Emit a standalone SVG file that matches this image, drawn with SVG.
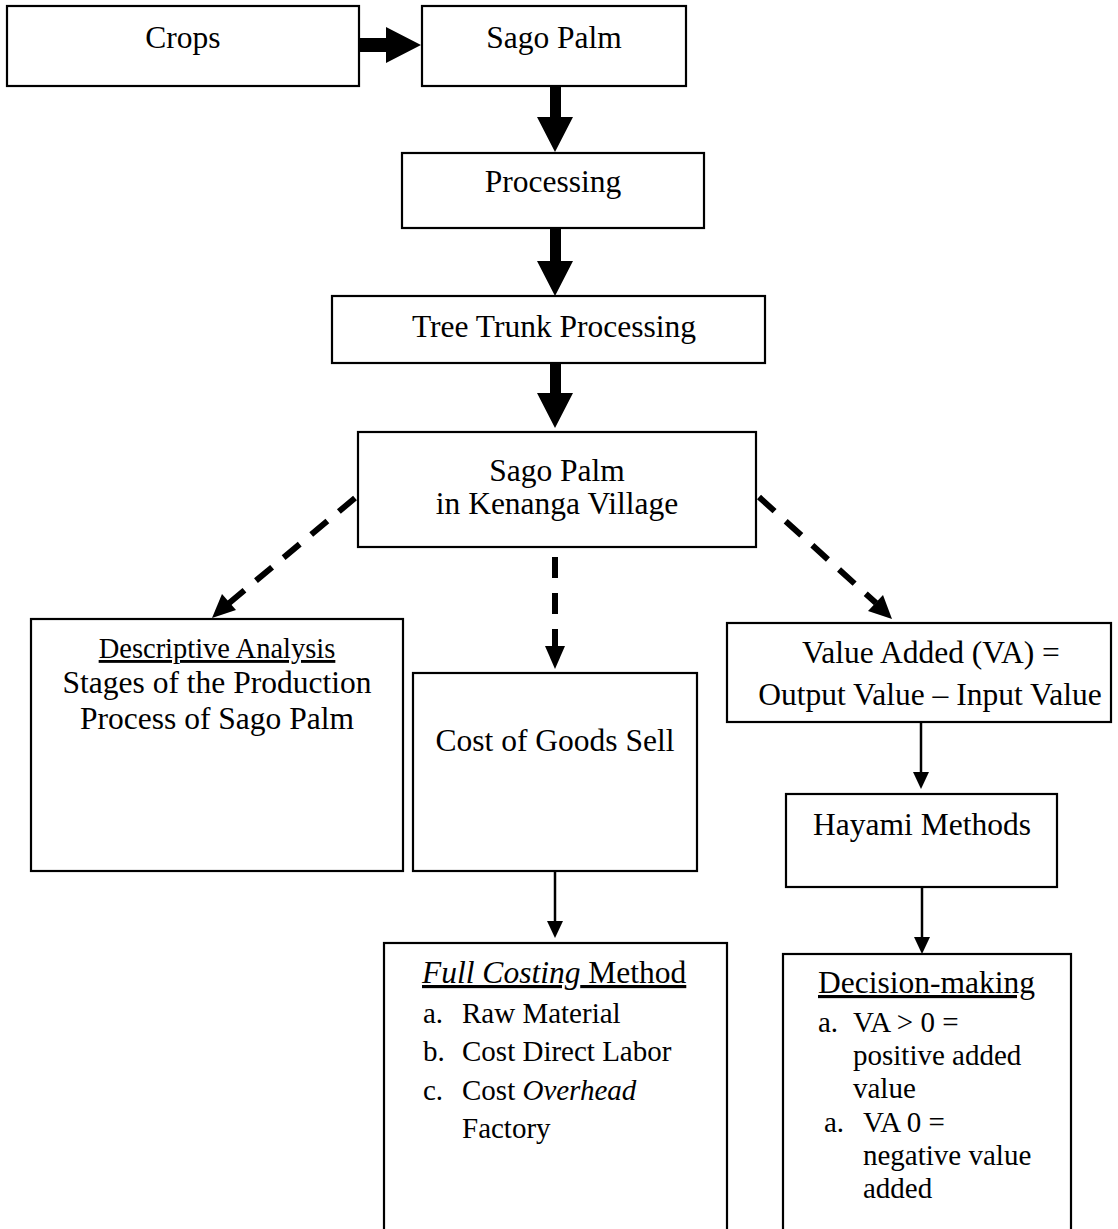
<svg xmlns="http://www.w3.org/2000/svg" width="1118" height="1229" viewBox="0 0 1118 1229">
<defs>
<style>
.box{fill:#fff;stroke:#000;stroke-width:2.2}
text{font-family:"Liberation Serif","Times New Roman",serif;fill:#000;font-size:31.5px}
.c{text-anchor:middle}
.li{font-size:29px}
.u{text-decoration:underline}
.thick{fill:#000}
.dash{stroke:#000;stroke-width:6;fill:none;stroke-dasharray:21 15}
.thin{stroke:#000;stroke-width:2.5;fill:none}
</style>
<marker id="ah" markerWidth="8" markerHeight="8" refX="7" refY="4" orient="auto" markerUnits="userSpaceOnUse" viewBox="0 0 8 8">
<path d="M0,0 L8,4 L0,8 Z" fill="#000"/>
</marker>
</defs>
<g id="connectors">
<polygon class="thick" points="359,38 386,38 386,27 421,45 386,63 386,52 359,52"/>
<polygon class="thick" points="550,86 561,86 561,117 573,117 555,152 537,117 550,117"/>
<polygon class="thick" points="550,228 561,228 561,261 573,261 555,296 537,261 550,261"/>
<polygon class="thick" points="550,363 561,363 561,393 573,393 555,428 537,393 550,393"/>
<line class="dash" x1="355" y1="498" x2="228" y2="604"/>
<polygon class="thick" points="212,618 222,594 236,610"/>
<line class="dash" x1="555" y1="557" x2="555" y2="648"/>
<polygon class="thick" points="545,646 565,646 555,669"/>
<line class="dash" x1="759" y1="497" x2="876" y2="603"/>
<polygon class="thick" points="892,619 868,611 883,595"/>
<line class="thin" x1="555" y1="872" x2="555" y2="922"/>
<polygon class="thick" points="547,921 563,921 555,938"/>
<line class="thin" x1="921" y1="722" x2="921" y2="773"/>
<polygon class="thick" points="913,772 929,772 921,789"/>
<line class="thin" x1="922" y1="887" x2="922" y2="938"/>
<polygon class="thick" points="914,937 930,937 922,954"/>
</g>
<g id="crops">
<rect class="box" x="7" y="6" width="352" height="80"/>
<text class="c" x="183" y="48">Crops</text>
</g>
<g id="sago-palm">
<rect class="box" x="422" y="6" width="264" height="80"/>
<text class="c" x="554" y="48">Sago Palm</text>
</g>
<g id="processing">
<rect class="box" x="402" y="153" width="302" height="75"/>
<text class="c" x="553" y="192">Processing</text>
</g>
<g id="tree-trunk">
<rect class="box" x="332" y="296" width="433" height="67"/>
<text class="c" x="554" y="337">Tree Trunk Processing</text>
</g>
<g id="kenanga">
<rect class="box" x="358" y="432" width="398" height="115"/>
<text class="c" x="557" y="481">Sago Palm</text>
<text class="c" x="557" y="514">in Kenanga Village</text>
</g>
<g id="descriptive">
<rect class="box" x="31" y="619" width="372" height="252"/>
<text class="c u" x="217" y="658" style="font-size:28.5px">Descriptive Analysis</text>
<text class="c" x="217" y="693">Stages of the Production</text>
<text class="c" x="217" y="729">Process of Sago Palm</text>
</g>
<g id="cogs">
<rect class="box" x="413" y="673" width="284" height="198"/>
<text class="c" x="555" y="751">Cost of Goods Sell</text>
</g>
<g id="value-added">
<rect class="box" x="727" y="623" width="384" height="99"/>
<text class="c" x="931" y="663">Value Added (VA) =</text>
<text class="c" x="930" y="705">Output Value – Input Value</text>
</g>
<g id="hayami">
<rect class="box" x="786" y="794" width="271" height="93"/>
<text class="c" x="922" y="835">Hayami Methods</text>
</g>
<g id="full-costing">
<rect class="box" x="384" y="943" width="343" height="300"/>
<text class="u" x="422" y="983"><tspan font-style="italic">Full Costing</tspan> Method</text>
<text class="li" x="423" y="1023">a.</text><text class="li" x="462" y="1023">Raw Material</text>
<text class="li" x="423" y="1061">b.</text><text class="li" x="462" y="1061">Cost Direct Labor</text>
<text class="li" x="423" y="1100">c.</text><text class="li" x="462" y="1100">Cost <tspan font-style="italic">Overhead</tspan></text>
<text class="li" x="462" y="1138">Factory</text>
</g>
<g id="decision">
<rect class="box" x="783" y="954" width="288" height="290"/>
<text class="u" x="818" y="993">Decision-making</text>
<text class="li" x="818" y="1032">a.</text><text class="li" x="853" y="1032">VA &gt; 0 =</text>
<text class="li" x="853" y="1065">positive added</text>
<text class="li" x="853" y="1098">value</text>
<text class="li" x="824" y="1132">a.</text><text class="li" x="863" y="1132">VA 0 =</text>
<text class="li" x="863" y="1165">negative value</text>
<text class="li" x="863" y="1198">added</text>
</g>
</svg>
